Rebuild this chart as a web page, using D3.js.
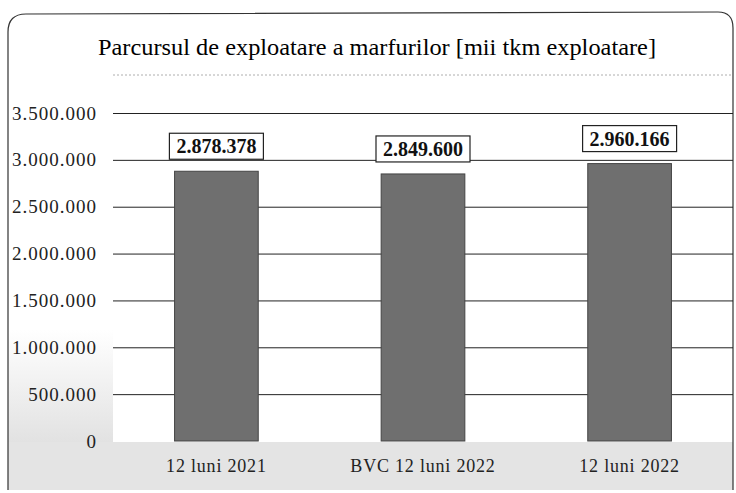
<!DOCTYPE html>
<html><head><meta charset="utf-8">
<script src="https://cdn.jsdelivr.net/npm/d3@7"></script>
<style>body{margin:0;background:#fff}svg{display:block}</style>
</head><body>
<script>
const categories = ["12 luni 2021", "BVC 12 luni 2022", "12 luni 2022"];
const values = [2878378, 2849600, 2960166];
const yTicks = [0, 500000, 1000000, 1500000, 2000000, 2500000, 3000000, 3500000];
const title = "Parcursul de exploatare a marfurilor [mii tkm exploatare]";

const W = 736, H = 493;
const fmt = v => d3.format(",")(v).replace(/,/g, ".");
const svg = d3.select("body").append("svg").attr("width", W).attr("height", H);

const defs = svg.append("defs");
const grad = defs.append("linearGradient").attr("id", "lg").attr("x1", 0).attr("y1", 0).attr("x2", 0).attr("y2", 1);
grad.append("stop").attr("offset", 0).attr("stop-color", "#fff");
grad.append("stop").attr("offset", 1).attr("stop-color", "#e2e2e2");

const m = {left: 113, right: 733, top: 113, bottom: 441};
const x = d3.scaleBand().domain(categories).range([m.left, m.right]).paddingInner(0.595).paddingOuter(0.298);
const y = d3.scaleLinear().domain([0, 3500000]).range([m.bottom, m.top]);

// background shading (scan texture)
svg.append("rect").attr("x", 8).attr("y", 330).attr("width", 105).attr("height", 112).attr("fill", "url(#lg)");
svg.append("rect").attr("x", 8).attr("y", 442).attr("width", 725).attr("height", 48).attr("fill", "#e4e4e4");

// border
svg.append("path")
  .attr("d", "M8,490 L8,32 Q8,14 26,14 L718,12 Q733,12 733,28 L733,490")
  .attr("fill", "none").attr("stroke", "#333").attr("stroke-width", 1.2);

// title
svg.append("text").attr("x", 377).attr("y", 55).attr("text-anchor", "middle")
  .attr("font-family", "Liberation Serif").attr("font-size", 23).attr("fill", "#000")
  .attr("textLength", 558).attr("lengthAdjust", "spacingAndGlyphs")
  .text(title);
svg.append("line").attr("x1", 113).attr("x2", 733).attr("y1", 75).attr("y2", 75)
  .attr("stroke", "#999").attr("stroke-width", 0.8).attr("stroke-dasharray", "2,2");

// gridlines and y labels
const yAxis = d3.axisLeft(y).tickValues(yTicks).tickSize(-(m.right - m.left)).tickFormat(fmt).tickPadding(16);
const ga = svg.append("g").attr("transform", `translate(${m.left},0)`).call(yAxis);
ga.select(".domain").remove();
ga.selectAll(".tick line").attr("stroke", "#222").attr("stroke-width", 1);
ga.selectAll(".tick").filter(d => d === 0).select("line").remove();
ga.selectAll(".tick text").attr("font-family", "Liberation Serif").attr("font-size", 19)
  .attr("letter-spacing", 1).attr("fill", "#222");

// bars
svg.append("g").selectAll("rect").data(values).join("rect")
  .attr("x", (d, i) => x(categories[i]))
  .attr("y", d => y(d))
  .attr("width", x.bandwidth())
  .attr("height", d => y(0) - y(d))
  .attr("fill", "#6f6f6f").attr("stroke", "#444").attr("stroke-width", 1);

// value labels
const lg = svg.append("g").selectAll("g").data(values).join("g");
lg.each(function(d, i) {
  const g = d3.select(this);
  const cx = x(categories[i]) + x.bandwidth() / 2;
  const bottom = y(d) - 12;
  const bw = 94, bh = 26;
  g.append("rect").attr("x", cx - bw / 2).attr("y", bottom - bh).attr("width", bw).attr("height", bh)
    .attr("fill", "#fff").attr("stroke", "#222").attr("stroke-width", 1.2);
  g.append("text").attr("x", cx).attr("y", bottom - 6).attr("text-anchor", "middle")
    .attr("font-family", "Liberation Serif").attr("font-weight", "bold").attr("font-size", 20)
    .attr("fill", "#111").text(fmt(d));
});

// x labels
const xAxis = d3.axisBottom(x).tickSize(0).tickPadding(18);
const gx = svg.append("g").attr("transform", `translate(0,${m.bottom})`).call(xAxis);
gx.select(".domain").remove();
gx.selectAll(".tick text").attr("font-family", "Liberation Serif").attr("font-size", 18)
  .attr("letter-spacing", 0.8).attr("fill", "#222");
</script>
</body></html>
